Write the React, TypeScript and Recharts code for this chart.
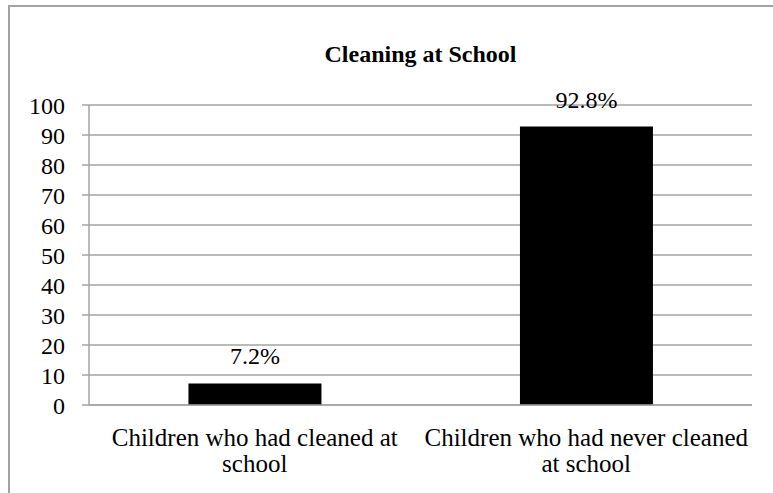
import { BarChart, Bar, XAxis, YAxis, CartesianGrid, LabelList } from 'recharts';

// line breaks as they wrap in the original
const categories = ['Children who had cleaned at\nschool', 'Children who had never cleaned\nat school'];
const percents = [7.2, 92.8];
const yTicks = [0, 10, 20, 30, 40, 50, 60, 70, 80, 90, 100];
const boundaryTicks = [0, 1, 2];

const data = categories.map((name, i) => ({ name, value: percents[i] }));

const FONT = '"Liberation Serif", "Times New Roman", serif';
const GRAY = '#a3a3a3';

function CategoryTick(props: any) {
  const { x, y, payload } = props;
  const lines = String(payload.value).split('\n');
  return (
    <text x={x} y={y + 27} textAnchor="middle" fontFamily={FONT} fontSize={25} fill="#000">
      {lines.map((line, i) => (
        <tspan key={i} x={x} dy={i === 0 ? 0 : 26}>
          {line}
        </tspan>
      ))}
    </text>
  );
}

export default function App() {
  return (
    <div style={{ position: 'absolute', left: 0, top: 0, width: 773, height: 493, overflow: 'hidden', background: '#fff' }}>
      <div
        style={{
          position: 'absolute',
          left: 8,
          top: 5,
          width: 900,
          height: 600,
          borderLeft: `2px solid ${GRAY}`,
          borderTop: `2px solid ${GRAY}`,
        }}
      />
      <div
        style={{
          position: 'absolute',
          left: 89,
          top: 42,
          width: 663,
          textAlign: 'center',
          fontFamily: FONT,
          fontWeight: 'bold',
          fontSize: 24,
          lineHeight: '24px',
          color: '#000',
        }}
      >
        Cleaning at School
      </div>
      <div style={{ position: 'absolute', left: 0, top: 0 }}>
        <BarChart
          width={773}
          height={493}
          data={data}
          margin={{ top: 105, right: 21, bottom: 0, left: 0 }}
          barCategoryGap="30%"
        >
          <CartesianGrid vertical={false} stroke={GRAY} strokeWidth={1.5} />
          <XAxis
            xAxisId="bounds"
            type="number"
            domain={[0, 2]}
            ticks={boundaryTicks}
            tick={false}
            height={6}
            tickSize={6}
            axisLine={{ stroke: GRAY, strokeWidth: 1.5 }}
            tickLine={{ stroke: GRAY, strokeWidth: 1.5 }}
          />
          <XAxis
            xAxisId="cat"
            dataKey="name"
            height={82}
            axisLine={false}
            tickLine={false}
            interval={0}
            tick={<CategoryTick />}
          />
          <YAxis
            width={89}
            domain={[0, 100]}
            ticks={yTicks}
            interval={0}
            tickSize={7}
            tickMargin={17}
            axisLine={{ stroke: GRAY, strokeWidth: 1.5 }}
            tickLine={{ stroke: GRAY, strokeWidth: 1.5 }}
            tick={{ fontFamily: FONT, fontSize: 24, fill: '#000' }}
          />
          <Bar xAxisId="cat" dataKey="value" fill="#000" isAnimationActive={false}>
            <LabelList
              dataKey="value"
              position="top"
              offset={19}
              formatter={(v: any) => `${v}%`}
              style={{ fontFamily: FONT, fontSize: 24, fill: '#000' }}
            />
          </Bar>
        </BarChart>
      </div>
    </div>
  );
}
